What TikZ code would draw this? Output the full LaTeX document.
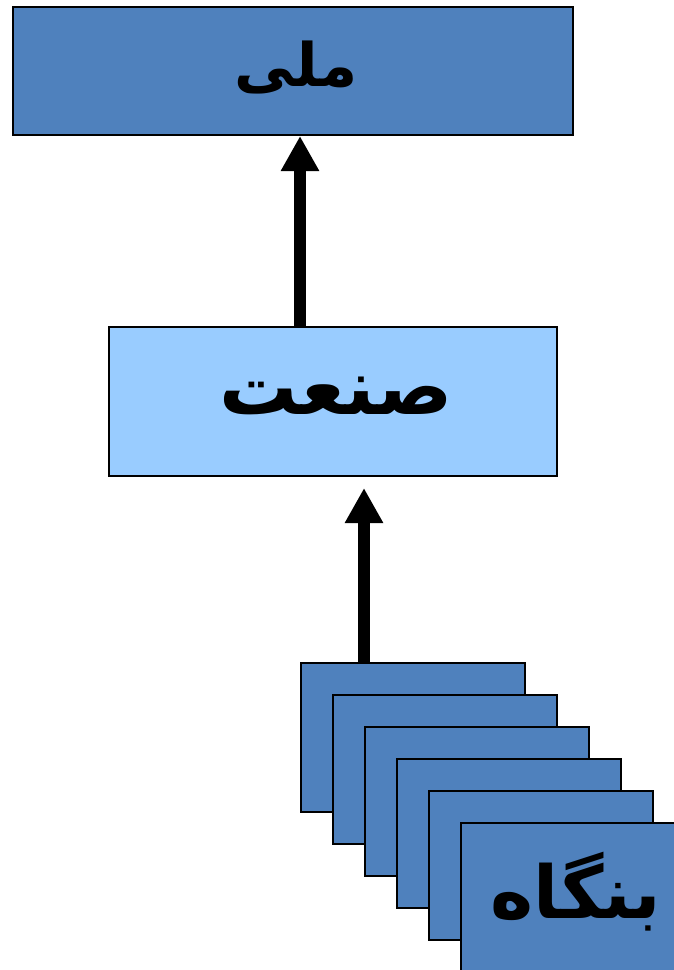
\documentclass[tikz,border=0pt]{standalone}
\usepackage{fontspec}
\usetikzlibrary{arrows.meta,calc}
\TeXXeTstate=1
\newfontfamily\arabicfont[Script=Arabic]{DejaVu Sans}
\definecolor{darkbox}{HTML}{4F81BD}
\definecolor{lightbox}{HTML}{99CCFF}
\tikzset{
  boxstyle/.style={draw=black, line width=2pt, rectangle, inner sep=0pt, anchor=north west},
  arr/.style={line width=12pt, -{Triangle[width=36pt,length=35pt]}},
  lbl/.style={font=\arabicfont\bfseries\fontsize{#1}{#1}\selectfont}
}
\begin{document}
\begin{tikzpicture}[x=1pt,y=1pt]
\useasboundingbox (0,0) rectangle (674,-970);
\node[boxstyle, fill=darkbox, minimum width=560pt, minimum height=128pt] (top) at (12,-6) {};
\node[lbl=60] (toplbl) at (296,-68) {\beginR ملی\endR};
\node[boxstyle, fill=lightbox, minimum width=448pt, minimum height=149pt] (mid) at (108,-326) {};
\node[lbl=78] (midlbl) at (336,-396) {\beginR صنعت\endR};
\foreach \i in {0,...,5} {
  \node[boxstyle, fill=darkbox, minimum width=224pt, minimum height=149pt] (s\i) at (300+32*\i,-662-32*\i) {};
}
\node[lbl=73] (botlbl) at (576,-892) {\beginR بنگاه\endR};
\draw[arr] (mid.north -| 300,0) -- (top.south -| 300,0);
\draw[arr] (s0.north -| 364,0) -- ([yshift=-11pt]mid.south -| 364,0);
\end{tikzpicture}
\end{document}
